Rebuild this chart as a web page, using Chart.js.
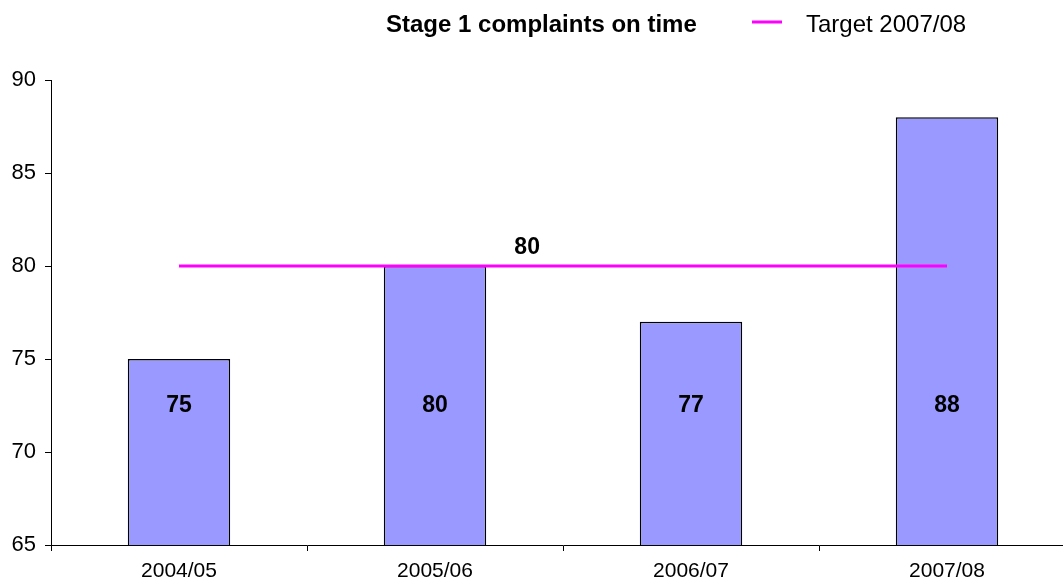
<!DOCTYPE html>
<html>
<head>
<meta charset="utf-8">
<script src="https://cdn.jsdelivr.net/npm/chart.js@4"></script>
<style>
  html, body { margin: 0; padding: 0; background: #fff; overflow: hidden; }
  #wrap { width: 1075px; height: 580px; }
</style>
</head>
<body>
<div id="wrap"><canvas id="myChart"></canvas></div>
<script>
const years = ['2004/05', '2005/06', '2006/07', '2007/08'];
const onTime = [75, 80, 77, 88];
const target = [80, 80, 80, 80];
const yTicks = [65, 70, 75, 80, 85, 90];

const FONT = "'Liberation Sans', Arial, sans-serif";

// legenda e rótulos desenhados à mão
const labelsPlugin = {
  id: 'labels',
  afterDatasetsDraw(chart) {
    const ctx = chart.ctx;
    const x = chart.scales.x, y = chart.scales.y;
    ctx.save();
    ctx.fillStyle = '#000';
    ctx.textAlign = 'center';
    ctx.textBaseline = 'middle';
    ctx.font = 'bold 23px ' + FONT;
    onTime.forEach((v, i) => {
      ctx.fillText(String(v), x.getPixelForValue(i), y.getPixelForValue(72.5));
    });
    // rótulo da meta
    ctx.fillText(String(target[1]), x.getPixelForValue(1.36), y.getPixelForValue(80) - 18);

    // cabeçalho / legenda
    ctx.textAlign = 'left';
    ctx.font = 'bold 24px ' + FONT;
    ctx.fillText('Stage 1 complaints on time', 386, 25);
    ctx.strokeStyle = '#ff00ff';
    ctx.lineWidth = 3;
    ctx.beginPath();
    ctx.moveTo(752, 22);
    ctx.lineTo(782, 22);
    ctx.stroke();
    ctx.font = '24px ' + FONT;
    ctx.fillText('Target 2007/08', 806, 25);
    ctx.restore();
  }
};

new Chart(document.getElementById('myChart'), {
  data: {
    labels: years,
    datasets: [
      {
        type: 'line',
        label: 'Target 2007/08',
        data: target,
        borderColor: '#ff00ff',
        borderWidth: 3,
        pointRadius: 0,
        fill: false,
        order: 0
      },
      {
        type: 'bar',
        label: 'Stage 1 complaints on time',
        data: onTime,
        backgroundColor: '#9999ff',
        borderColor: '#000',
        borderWidth: 1.5,
        barPercentage: 0.4,
        categoryPercentage: 1,
        order: 1
      }
    ]
  },
  options: {
    responsive: true,
    maintainAspectRatio: false,
    animation: false,
    layout: { padding: { top: 80, left: 0, right: 0, bottom: 0 } },
    plugins: {
      legend: { display: false },
      tooltip: { enabled: false }
    },
    scales: {
      x: {
        offset: true,
        grid: { offset: true, drawOnChartArea: false, drawTicks: true, tickLength: 6, color: '#000' },
        border: { color: '#000', width: 1 },
        ticks: { color: '#000', font: { family: FONT, size: 21 }, padding: 8 },
        afterFit(scale) { scale.height = 35; }
      },
      y: {
        min: 65,
        max: 90,
        afterBuildTicks(scale) { scale.ticks = yTicks.map(v => ({ value: v })); },
        grid: { drawOnChartArea: false, drawTicks: true, tickLength: 6, color: '#000' },
        border: { color: '#000', width: 1 },
        ticks: { color: '#000', font: { family: FONT, size: 22 }, padding: 9 },
        afterFit(scale) { scale.width = 51; }
      }
    }
  },
  plugins: [labelsPlugin]
});
</script>
</body>
</html>
